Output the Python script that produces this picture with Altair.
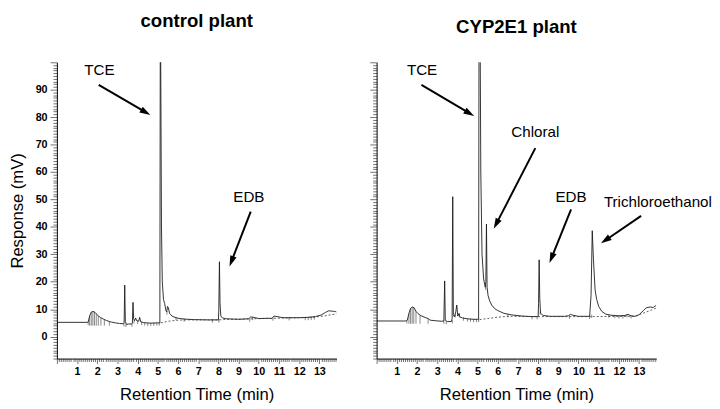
import math
import altair as alt
import pandas as pd

# ---------------- data ----------------
# control plant trace (time in min, response in mV)
ctrl_t = [0.00, 1.50, 1.55, 1.62, 1.70, 1.79, 1.88, 1.95, 2.05, 2.15, 2.30, 2.45, 2.60, 2.70,
          2.90, 3.10, 3.30, 3.33, 3.36, 3.39, 3.45, 3.55, 3.70, 3.74, 3.77, 3.80, 3.85, 3.90,
          3.95, 4.05, 4.10, 4.15, 4.30, 4.60, 5.00, 5.10, 5.12, 5.14, 5.18, 5.22, 5.28, 5.34,
          5.40, 5.44, 5.48, 5.52, 5.58, 5.70, 5.85, 6.00, 6.30, 6.80, 7.50, 8.00, 8.02, 8.05,
          8.08, 8.12, 8.20, 8.40, 9.00, 9.50, 9.60, 9.75, 10.00, 10.50, 10.65, 10.75, 10.90,
          11.20, 12.00, 12.40, 12.80, 13.10, 13.30, 13.45, 13.60, 13.75, 13.85]
ctrl_v = [5.2, 5.2, 5.3, 7.5, 8.9, 9.2, 8.9, 8.3, 7.6, 7.0, 6.4, 5.9, 5.5, 5.3,
          5.0, 4.8, 4.7, 4.9, 18.8, 5.5, 4.4, 4.6, 4.6, 5.0, 12.5, 6.5, 5.8, 6.8,
          5.8, 5.6, 7.0, 5.4, 5.1, 4.9, 5.0, 5.0, 105.0, 105.0, 40.0, 20.0, 13.5, 12.0,
          9.5, 9.0, 11.0, 10.5, 8.5, 7.5, 7.0, 6.7, 6.4, 6.2, 6.1, 6.1, 10.0, 27.3,
          12.0, 7.5, 6.8, 6.5, 6.3, 6.5, 7.2, 7.0, 6.6, 6.7, 6.6, 7.5, 7.3,
          6.9, 6.9, 7.0, 7.3, 7.9, 8.8, 9.4, 9.3, 9.2, 9.0]

# CYP2E1 plant trace
cyp_t = [0.00, 1.45, 1.52, 1.60, 1.68, 1.78, 1.86, 1.95, 2.05, 2.20, 2.40, 2.55, 2.65, 2.90,
         3.20, 3.33, 3.37, 3.40, 3.50, 3.70, 3.74, 3.77, 3.80, 3.85, 3.92, 3.97, 4.02, 4.08,
         4.12, 4.25, 4.50, 4.80, 5.00, 5.05, 5.07, 5.11, 5.13, 5.16, 5.22, 5.30, 5.38, 5.41,
         5.44, 5.47, 5.52, 5.60, 5.70, 5.85, 6.00, 6.30, 6.70, 7.20, 7.70, 8.00, 8.02, 8.05,
         8.08, 8.12, 8.25, 8.60, 9.30, 9.50, 9.60, 9.72, 10.00, 10.55, 10.62, 10.68, 10.74,
         10.82, 10.90, 11.00, 11.15, 11.35, 11.60, 12.00, 12.30, 12.45, 12.60, 12.80, 13.00,
         13.20, 13.35, 13.55, 13.70, 13.80, 13.85]
cyp_v = [5.7, 5.7, 6.0, 8.5, 10.3, 10.8, 10.5, 9.2, 8.4, 7.6, 7.0, 6.6, 6.0, 5.8,
         5.6, 5.7, 20.3, 6.0, 5.5, 5.5, 6.5, 51.0, 8.0, 7.2, 9.0, 11.5, 7.5, 8.5,
         7.2, 6.8, 6.5, 6.3, 6.3, 6.3, 105.0, 105.0, 105.0, 60.0, 30.0, 21.0, 18.0, 20.0,
         41.0, 18.0, 15.0, 13.0, 11.5, 10.2, 9.5, 8.5, 7.9, 7.5, 7.3, 7.3, 12.0, 28.0,
         14.0, 8.5, 7.7, 7.4, 7.4, 7.6, 8.1, 7.8, 7.4, 7.4, 15.0, 38.6, 28.0,
         17.0, 13.5, 11.0, 9.2, 8.2, 7.8, 7.6, 7.7, 8.1, 7.6, 7.4, 8.0,
         9.4, 10.5, 10.8, 10.6, 11.2, 11.4]

# dashed integration baselines
ctrl_base_t = [5.15, 5.50, 6.00, 6.50, 8.00, 8.50, 12.60, 13.20, 13.85]
ctrl_base_v = [5.0, 5.6, 6.0, 6.1, 6.1, 6.3, 7.0, 7.5, 8.3]
cyp_base_t = [5.10, 5.50, 6.00, 6.50, 8.00, 10.60, 12.80, 13.30, 13.85]
cyp_base_v = [6.2, 6.6, 7.1, 7.4, 7.3, 7.3, 7.4, 8.8, 10.4]

# hatch lines under the early hump
ctrl_hatch_t = [1.62, 1.70, 1.78, 1.86, 1.95, 2.05, 2.18, 2.35, 2.60]
ctrl_hatch_v = [7.6, 8.9, 9.2, 9.0, 8.3, 7.6, 6.9, 6.2, 5.5]
cyp_hatch_t = [1.60, 1.68, 1.76, 1.84, 1.95, 2.15, 2.55]
cyp_hatch_v = [8.5, 10.3, 10.8, 10.6, 9.2, 7.8, 6.6]

# small integration marks along the trace
ctrl_mark_t = [1.55, 3.32, 3.42, 3.72, 3.82, 4.00, 4.20, 4.35, 4.50, 4.65, 4.80, 4.95, 5.07,
               5.45, 5.90, 6.30, 7.70, 8.02, 9.55, 9.70, 10.70, 11.50, 12.30, 12.45, 12.60, 12.75]
ctrl_mark_v = [5.2, 4.7, 4.5, 4.6, 5.8, 5.6, 5.2, 5.0, 4.9, 4.9, 4.9, 5.0, 5.0,
               9.0, 7.0, 6.4, 6.1, 6.1, 6.4, 7.0, 6.8, 6.9, 7.0, 7.0, 7.1, 7.2]
cyp_mark_t = [1.50, 3.33, 3.45, 3.75, 3.90, 4.10, 4.30, 4.50, 4.65, 4.80, 4.95, 5.05, 5.40,
              6.50, 7.70, 7.95, 8.10, 9.55, 10.55, 10.65, 11.50, 11.80, 12.00, 12.20, 12.40, 12.60]
cyp_mark_v = [5.8, 5.7, 5.5, 5.8, 8.0, 8.0, 6.8, 6.5, 6.4, 6.3, 6.3, 6.3, 18.0,
              8.0, 7.3, 7.3, 9.0, 7.5, 7.4, 7.8, 7.9, 7.7, 7.6, 7.6, 8.0, 7.6]

# annotations: label, text position (t, mV)
ctrl_labels = ["TCE", "EDB"]
ctrl_label_t = [2.11, 9.51]
ctrl_label_v = [97.2, 50.9]
cyp_labels = ["TCE", "Chloral", "EDB", "Trichloroethanol"]
cyp_label_t = [2.25, 7.86, 9.63, 13.93]
cyp_label_v = [97.2, 74.5, 50.8, 49.1]

# arrows: start (t, mV) -> tip (t, mV)
ctrl_arrow_t0 = [2.07, 9.60]
ctrl_arrow_v0 = [91.8, 45.6]
ctrl_arrow_t1 = [4.63, 8.55]
ctrl_arrow_v1 = [80.8, 25.6]
cyp_arrow_t0 = [2.22, 7.86, 9.63, 13.10]
cyp_arrow_v0 = [91.8, 68.7, 46.4, 44.0]
cyp_arrow_t1 = [4.83, 5.80, 8.56, 11.11]
cyp_arrow_v1 = [80.4, 39.3, 26.8, 34.0]

# axis ticks
x_ticks = [round(i * 0.1, 1) for i in range(0, 139)]
y_ticks = list(range(-8, 101))

# ---------------- layout / style ----------------
XMIN, XMAX = 0.0, 13.85
YMIN, YMAX = -8.0, 100.0
W, H = 286, 303
FONT = "Liberation Sans"
PX_T = W / (XMAX - XMIN)
PX_V = H / (YMAX - YMIN)
HEAD_LEN = 11.0


def arrows_df(t0, v0, t1, v1):
    rows = []
    for a, b, c, d in zip(t0, v0, t1, v1):
        dx = (c - a) * PX_T
        dy = -(d - b) * PX_V
        L = math.hypot(dx, dy)
        ang = math.degrees(math.atan2(dx, -dy)) % 360
        f = max(0.0, (L - HEAD_LEN * 0.8) / L)
        rows.append(dict(x1=a, y1=b, x2=a + (c - a) * f, y2=b + (d - b) * f,
                         xe=c, ye=d, ang=ang))
    return pd.DataFrame(rows)


def panel(tt, vv, bt, bv, ht, hv, mt, mv, lab, lt, lv, a_t0, a_v0, a_t1, a_v1,
          title, show_y):
    trace = pd.DataFrame({"t": tt, "v": vv, "i": list(range(len(tt)))})
    base = pd.DataFrame({"t": bt, "v": bv})
    hatch = pd.DataFrame({"t": ht, "hi": hv, "lo": [min(bv[0], vv[0]) - 1.0] * len(ht)})
    marks = pd.DataFrame({"t": mt, "hi": [m + 0.2 for m in mv], "lo": [m - 1.0 for m in mv]})
    labels = pd.DataFrame({"label": lab, "t": lt, "v": lv})
    arr = arrows_df(a_t0, a_v0, a_t1, a_v1)

    xs = alt.Scale(domain=[XMIN, XMAX], nice=False, zero=False)
    ys = alt.Scale(domain=[YMIN, YMAX], nice=False, zero=False)
    xaxis = alt.Axis(
        values=x_ticks, tickCount=400, orient="bottom", title="Retention Time (min)",
        labelExpr="abs(datum.value - round(datum.value)) < 0.01 && datum.value >= 1 ? format(datum.value, 'd') : ''",
        tickSize={"condition": {"test": "abs(datum.value - round(datum.value)) < 0.01", "value": 5}, "value": 3},
        labelPadding=2, labelFont=FONT, labelFontSize=11, labelFontWeight="bold",
        labelColor="black", labelOverlap=False, labelFlush=False, labelBound=False,
        titleFont=FONT, titleFontSize=17, titleFontWeight="normal", titleColor="black",
        titlePadding=11, domainColor="black", tickColor="#333", tickWidth=0.7, grid=False,
    )
    if show_y:
        yaxis = alt.Axis(
            values=y_ticks, tickCount=400, orient="left", title="Response (mV)",
            labelExpr="datum.value >= 0 && datum.value <= 90 && datum.value % 10 === 0 ? format(datum.value, 'd') : ''",
            tickSize={"condition": {"test": "datum.value % 10 === 0", "value": 7}, "value": 4},
            labelPadding=3, labelFont=FONT, labelFontSize=11, labelFontWeight="bold",
            labelColor="black", labelOverlap=False, labelFlush=False, labelBound=False,
            titleFont=FONT, titleFontSize=17, titleFontWeight="normal", titleColor="black",
            titlePadding=9, domainColor="black", tickColor="#333", tickWidth=0.7, grid=False,
        )
    else:
        yaxis = alt.Axis(
            values=y_ticks, tickCount=400, orient="left", title=None, labels=False,
            tickSize={"condition": {"test": "datum.value % 10 === 0", "value": 7}, "value": 4},
            domainColor="black", tickColor="#333", tickWidth=0.7, grid=False,
        )

    line = alt.Chart(trace).mark_line(color="#1a1a1a", strokeWidth=0.9, clip=True).encode(
        x=alt.X("t:Q", scale=xs, axis=xaxis),
        y=alt.Y("v:Q", scale=ys, axis=yaxis),
        order=alt.Order("i:Q"),
    )
    dashed = alt.Chart(base).mark_line(color="#333", strokeWidth=0.8, strokeDash=[2, 2]).encode(
        x="t:Q", y="v:Q")
    hat = alt.Chart(hatch).mark_rule(color="#333", strokeWidth=0.6).encode(
        x="t:Q", y="lo:Q", y2="hi:Q")
    mk = alt.Chart(marks).mark_rule(color="#333", strokeWidth=0.6).encode(
        x="t:Q", y="lo:Q", y2="hi:Q")
    shafts = alt.Chart(arr).mark_rule(color="black", strokeWidth=2).encode(
        x="x1:Q", y="y1:Q", x2="x2:Q", y2="y2:Q")
    heads = alt.Chart(arr).mark_point(
        shape="M0,0L0.62,2L-0.62,2Z", filled=True, size=HEAD_LEN ** 2,
        color="black", opacity=1, strokeWidth=0).encode(
        x="xe:Q", y="ye:Q", angle=alt.Angle("ang:Q", scale=None))
    txt = alt.Chart(labels).mark_text(font=FONT, fontSize=15.5, color="black").encode(
        x="t:Q", y="v:Q", text="label:N")

    return alt.layer(line, dashed, hat, mk, shafts, heads, txt).properties(
        width=W, height=H,
        title=alt.TitleParams(title, font=FONT, fontSize=19, fontWeight="bold",
                              color="black", anchor="middle", frame="group", offset=26),
    )


left = panel(ctrl_t, ctrl_v, ctrl_base_t, ctrl_base_v, ctrl_hatch_t, ctrl_hatch_v,
             ctrl_mark_t, ctrl_mark_v, ctrl_labels, ctrl_label_t, ctrl_label_v,
             ctrl_arrow_t0, ctrl_arrow_v0, ctrl_arrow_t1, ctrl_arrow_v1,
             "control plant", True)
right = panel(cyp_t, cyp_v, cyp_base_t, cyp_base_v, cyp_hatch_t, cyp_hatch_v,
              cyp_mark_t, cyp_mark_v, cyp_labels, cyp_label_t, cyp_label_v,
              cyp_arrow_t0, cyp_arrow_v0, cyp_arrow_t1, cyp_arrow_v1,
              "CYP2E1 plant", False)

chart = alt.hconcat(left, right, spacing=31).properties(padding=0).configure_view(stroke=None)
chart.save("out.html", embed_options={"renderer": "svg", "actions": False})
